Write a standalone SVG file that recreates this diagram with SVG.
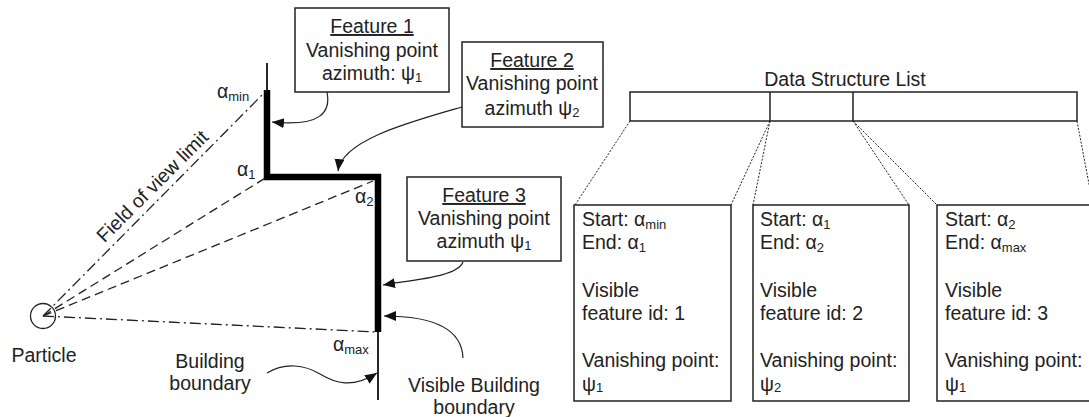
<svg xmlns="http://www.w3.org/2000/svg" width="1089" height="417" viewBox="0 0 1089 417">
<style>
text{font-family:"Liberation Sans",Arial,sans-serif;font-size:19.5px;fill:#222}
.c{text-anchor:middle}
.sub{font-size:13px}
.box{fill:#fff;stroke:#222;stroke-width:1.5}
.thin{fill:none;stroke:#111;stroke-width:1.8}
.dash{fill:none;stroke:#222;stroke-width:1.3;stroke-dasharray:9 5}
.dashdot{fill:none;stroke:#222;stroke-width:1.3;stroke-dasharray:11 4 2 4}
.dot{fill:none;stroke:#222;stroke-width:1;stroke-dasharray:2 1.5}
.arr{fill:none;stroke:#222;stroke-width:1.2;marker-end:url(#ah)}
</style>
<defs>
<marker id="ah" markerUnits="userSpaceOnUse" markerWidth="14" markerHeight="12" refX="12" refY="5" orient="auto">
<path d="M0,0 L12,5 L0,10 Z" fill="#111"/>
</marker>
</defs>
<rect width="1089" height="417" fill="#fff"/>

<g id="building">
<path class="thin" d="M267,63 L267,92 M378,330 L378,400"/>
<path d="M267,90 L267,177 L378,177 L378,332" fill="none" stroke="#000" stroke-width="6.5" stroke-linejoin="miter"/>
</g>

<g id="particle">
<circle cx="43" cy="316" r="12.5" fill="none" stroke="#222" stroke-width="1.3"/>
<text class="c" x="44" y="362">Particle</text>
</g>

<g id="connectors">
<path class="dashdot" d="M43,316 L267,90"/>
<path class="dash" d="M43,316 L267,177"/>
<path class="dash" d="M43,316 L373,181"/>
<path class="dashdot" d="M43,316 L378,332"/>
<path class="arr" d="M327,92 C331,112 321,127 272,122"/>
<path class="arr" d="M462,107 C410,122 342,140 338,171"/>
<path class="arr" d="M463,262 C458,276 420,279 383,285"/>
<path class="arr" d="M463,358 C462,332 440,316 384,316"/>
<path class="arr" d="M267,373 C285,362 305,365 320,374 S352,389 377,373"/>
<path class="dot" d="M630,121 L575,205 M770,121 L731,205 M770,121 L753,205 M853,121 L909,205 M853,121 L937,205 M1077,121 L1093,205"/>
</g>

<g id="labels">
<text x="217" y="98">α<tspan class="sub" dy="3">min</tspan></text>
<text x="237" y="176">α<tspan class="sub" dy="3">1</tspan></text>
<text x="355" y="203">α<tspan class="sub" dy="3">2</tspan></text>
<text x="333" y="351">α<tspan class="sub" dy="3">max</tspan></text>
<text class="c" transform="translate(157,191) rotate(-45)">Field of view limit</text>
<text class="c" x="210" y="368">Building</text>
<text class="c" x="210" y="390">boundary</text>
<text class="c" x="474" y="392">Visible Building</text>
<text class="c" x="474" y="414">boundary</text>
</g>

<g id="feature1">
<rect class="box" x="295" y="8" width="154" height="84"/>
<text class="c" x="372" y="33" text-decoration="underline">Feature 1</text>
<text class="c" x="372" y="57">Vanishing point</text>
<text class="c" x="372" y="80">azimuth: ψ<tspan class="sub" dy="2">1</tspan></text>
</g>

<g id="feature2">
<rect class="box" x="462" y="42" width="141" height="85"/>
<text class="c" x="532" y="67" text-decoration="underline">Feature 2</text>
<text class="c" x="532" y="90">Vanishing point</text>
<text class="c" x="532" y="115">azimuth ψ<tspan class="sub" dy="2">2</tspan></text>
</g>

<g id="feature3">
<rect class="box" x="407" y="177" width="154" height="84"/>
<text class="c" x="484" y="202" text-decoration="underline">Feature 3</text>
<text class="c" x="484" y="225">Vanishing point</text>
<text class="c" x="484" y="248">azimuth ψ<tspan class="sub" dy="2">1</tspan></text>
</g>

<g id="list">
<text class="c" x="845" y="86">Data Structure List</text>
<rect class="box" x="630" y="92" width="447" height="29" fill="none"/>
<path d="M770,92 L770,121 M853,92 L853,121" stroke="#222" stroke-width="1.5"/>
</g>

<g id="entry1">
<rect class="box" x="574" y="205" width="157" height="196"/>
<text x="582" y="226">Start: α<tspan class="sub" dy="3">min</tspan></text>
<text x="582" y="249">End: α<tspan class="sub" dy="3">1</tspan></text>
<text x="582" y="297">Visible</text>
<text x="582" y="320">feature id: 1</text>
<text x="582" y="367">Vanishing point:</text>
<text x="582" y="391">ψ<tspan class="sub" dy="1">1</tspan></text>
</g>

<g id="entry2">
<rect class="box" x="753" y="205" width="156" height="196"/>
<text x="760" y="226">Start: α<tspan class="sub" dy="3">1</tspan></text>
<text x="760" y="249">End: α<tspan class="sub" dy="3">2</tspan></text>
<text x="760" y="297">Visible</text>
<text x="760" y="320">feature id: 2</text>
<text x="760" y="367">Vanishing point:</text>
<text x="760" y="391">ψ<tspan class="sub" dy="1">2</tspan></text>
</g>

<g id="entry3">
<rect class="box" x="937" y="205" width="157" height="196"/>
<text x="945" y="226">Start: α<tspan class="sub" dy="3">2</tspan></text>
<text x="945" y="249">End: α<tspan class="sub" dy="3">max</tspan></text>
<text x="945" y="297">Visible</text>
<text x="945" y="320">feature id: 3</text>
<text x="945" y="367">Vanishing point:</text>
<text x="945" y="391">ψ<tspan class="sub" dy="1">1</tspan></text>
</g>
</svg>
